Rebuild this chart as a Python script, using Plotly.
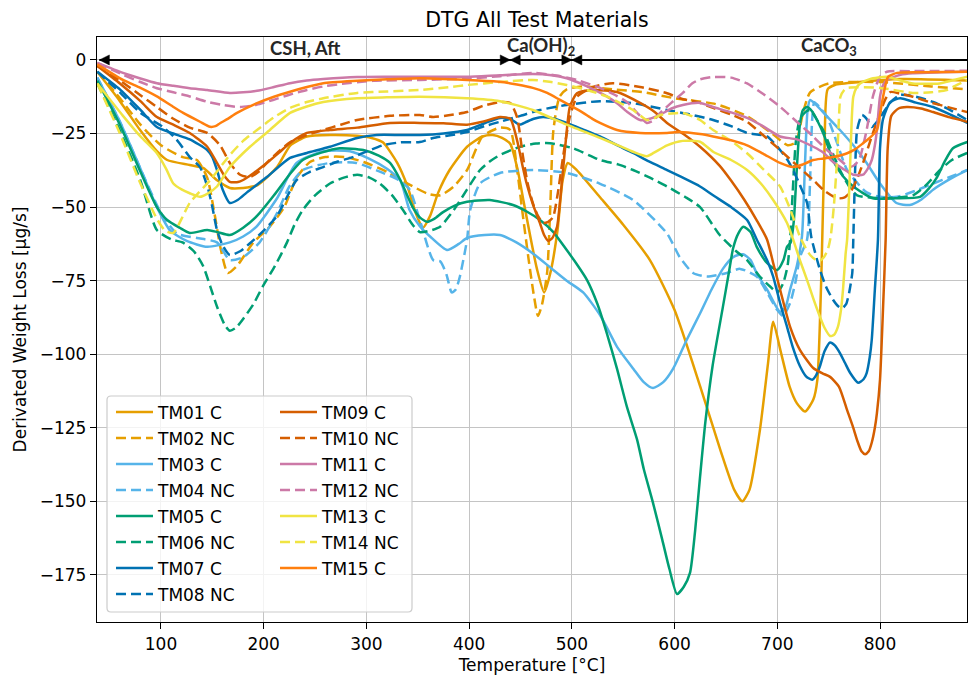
import plotly.graph_objects as go

# ---- DTG curves: (temperature °C, derivative weight loss µg/s) ----
TM01 = [(38, -4), (60, -14), (80, -24), (96, -31), (106, -34), (128, -35.7), (141, -36.7), (155, -41),
        (167, -43.5), (180, -43.5), (194, -42.5), (213, -36.4), (226, -29), (242, -26), (265, -25.5),
        (291, -25.8), (305, -26.5), (316, -28), (330, -35), (340, -43), (348, -52), (355, -57), (362, -53),
        (370, -45), (381, -37.4), (398, -29.5), (413, -26), (423, -25.5), (432, -26.5), (440, -28.5),
        (447, -37), (453, -48), (459, -59), (466, -71), (473, -79), (479, -72.5), (486, -58), (491, -41),
        (496, -35), (505, -37.5), (527, -46.5), (550, -56), (576, -68), (600, -85), (625, -111), (645, -133),
        (658, -146), (666, -150), (673, -146), (683, -126), (691, -103), (696, -89), (703, -98.6),
        (712, -111), (719, -116.6), (727, -119.5), (735, -115.5), (739, -108.7), (743, -72), (746, -30),
        (749, -10), (756, -8.5), (780, -7.5), (820, -6.5), (885, -7)]
TM02 = [(38, -4), (60, -13), (80, -22), (100, -29), (121, -33), (135, -34), (145, -40), (152, -52),
        (158, -64), (165, -72.4), (174, -70), (190, -62), (205, -57), (220, -50), (232, -40), (245, -34.7),
        (260, -33), (280, -33), (300, -35), (320, -38), (340, -42), (360, -45.5), (372, -46), (385, -43),
        (398, -37.4), (413, -26), (430, -23), (440, -23.8), (446.6, -37), (452, -52), (458, -68), (463, -80),
        (467, -87), (471, -83), (476, -72), (479, -50), (482, -24), (488, -12.5), (495, -10), (510, -9),
        (540, -10), (570, -11), (600, -13), (640, -15), (670, -19), (695, -25), (710, -29), (718, -28),
        (725, -18), (732, -11), (750, -8), (800, -7.5), (850, -9), (885, -10)]
TM03 = [(38, -6), (60, -21), (80, -37), (96, -50), (109, -58), (125, -61.5), (145, -63.5), (167, -62),
        (180, -60), (193, -56.6), (213, -47), (232, -35), (258, -31), (284, -31), (303, -33.6), (320, -37),
        (333, -41), (342, -51), (352, -56.5), (362, -60), (378.5, -64.6), (390, -62.5), (398, -60.5),
        (415, -59.5), (430, -59.5), (446, -62), (463, -66), (479, -70.5), (495, -75), (511, -79), (528, -87),
        (544, -97.5), (560, -105), (570, -109.5), (579, -111.5), (589, -109.5), (598.5, -105), (612, -95),
        (625, -86), (636, -78), (647, -71), (657, -67), (666.7, -66), (674, -68), (680, -72.5), (690, -78),
        (702.7, -85.6), (708, -84), (712.5, -78), (719, -70), (724, -60), (727, -35), (729.5, -17),
        (732, -13.6), (737, -15), (748, -19), (761, -23.8), (774, -29), (787, -35), (800, -42), (816, -48.6),
        (829, -49.3), (840, -47.5), (852, -44), (868, -40.5), (885, -37.4)]
TM04 = [(38, -6), (60, -21), (80, -37), (100, -52), (115.6, -59), (135, -60.5), (154.5, -62), (167, -68),
        (180, -67), (196, -62), (213, -52), (225, -43), (238, -37.4), (264.5, -35), (290, -35),
        (316, -38.4), (330, -40.5), (342, -44), (352, -54.4), (365, -68), (372, -68.5), (378, -73),
        (383, -79), (387, -78), (391, -73.6), (398, -61), (401, -51), (410.6, -42), (430, -38.4),
        (462, -37.4), (495, -38.4), (527, -42), (559.6, -47.6), (592.7, -59), (605, -67), (618, -72.4),
        (631.6, -73.6), (650, -72.5), (663.8, -71), (680, -73.6), (690, -79), (700, -85), (705.6, -87),
        (712.5, -82.6), (718, -75), (722, -67), (729, -61), (732, -40), (734, -20), (736, -14.4),
        (741, -16), (748.5, -19.4), (758, -28), (768, -37.4), (787, -45), (800, -46.5), (816.6, -46.5),
        (834, -44.5), (851.7, -42), (870, -39.5), (885, -37.4)]
TM05 = [(38, -7), (60, -22), (80, -38), (96, -50), (106, -54.4), (118, -57), (128, -58.8), (145, -57.8),
        (155, -58.5), (167, -59.5), (180, -57), (193.5, -53), (210, -46), (225, -39), (238, -34),
        (256, -31.5), (274, -30), (297, -30.6), (312, -32.5), (323, -35), (333, -40.8), (345, -50),
        (352, -53.5), (359, -55), (366, -54), (374.6, -51.7), (386, -49.5), (398, -48.2), (420, -47.6),
        (442.7, -49.3), (456, -51.5), (469, -54.4), (482, -58.5), (495, -64.6), (505, -69.5),
        (514.8, -74.8), (525, -83), (534, -92.8), (544, -105), (553.7, -118), (563.5, -129), (570, -139),
        (579, -150.5), (588, -163), (595, -173), (602.4, -181.5), (609, -179), (615, -174.3), (620, -160),
        (624.8, -141.7), (630, -123), (637, -104), (647, -84), (653, -72), (657, -64), (662, -59),
        (667, -56.7), (674, -58.5), (680, -63.5), (690, -69), (700, -71.4), (706, -68), (709.5, -63.5),
        (713, -62), (716, -55), (719, -37), (722, -22), (725, -17), (729, -16), (734, -17.5),
        (738.7, -20.4), (746, -26), (754, -34), (764, -39.5), (774, -43), (793, -47), (815, -47),
        (839, -46.5), (848, -43.5), (855.6, -39.8), (863, -34.5), (871, -30), (885, -27.9)]
TM06 = [(38, -8), (60, -24), (80, -41), (96, -57.8), (110, -61), (121, -62), (132, -65), (141, -70),
        (148, -77), (154.5, -83.8), (162, -90), (167, -92), (173, -91), (180, -88), (190, -83), (199, -77),
        (211, -70), (222.7, -62), (230, -56), (238, -51), (250, -46), (264.5, -42), (278, -40), (291, -39),
        (303, -40), (313, -42), (325, -46), (335.6, -51), (345, -56), (352, -58.5), (362, -58),
        (371.7, -56.7), (385, -51), (398, -44), (410.6, -37.4), (420, -34.5), (430, -32.3), (449.6, -29.5),
        (465, -28.4), (478.8, -28.3), (501, -30), (527.4, -34), (545, -35.5), (559.6, -37.4), (576, -40),
        (592.7, -43), (610, -46.5), (624.8, -50), (644, -59.5), (660, -65), (670.6, -68), (683, -73.6),
        (693, -77), (700, -79), (705.6, -76), (710, -70), (712.5, -61), (715, -45), (718, -28), (722, -20),
        (728, -17.5), (732, -17), (738, -20), (744.6, -23.8), (752, -30), (761, -37.4), (770, -43),
        (777.7, -46), (800, -47), (832, -46), (845, -42.5), (858.5, -37.4), (870, -34), (885, -31.6)]
TM07 = [(38, -4), (60, -10), (80, -17), (96, -22.8), (112, -25), (128, -27), (145, -30.6), (150, -33),
        (154.5, -37.4), (160, -44), (167, -48.6), (175, -47.5), (183.7, -45), (203, -39.8), (225.6, -33.3),
        (242, -31.6), (264.5, -29.5), (291, -26.5), (310, -25.5), (333, -25.5), (352, -25.5), (375, -25),
        (398, -23.8), (415, -21.5), (430, -19.7), (440, -20), (449, -22), (456, -21), (463, -20),
        (472, -19.4), (483, -20), (495, -21.4), (510, -23.5), (527.4, -26), (543, -28.8), (559.6, -31.6),
        (575, -34.5), (592.7, -37.4), (605, -39.5), (624.8, -43), (637.5, -46), (655, -50), (670.6, -54.4),
        (680, -61), (690, -68), (696, -73.6), (703, -83), (709.5, -90.7), (715, -97.5), (722, -104),
        (728, -107.5), (734, -108.7), (738, -107), (741.6, -104), (746, -99), (751.4, -96), (756, -97),
        (761, -99.6), (766, -103), (771, -106.4), (778.7, -109.7), (784, -108.5), (787, -106.4),
        (790, -101), (792, -95), (795, -78), (798, -61), (800, -30), (803, -20), (810, -14.3),
        (819.6, -13), (835, -14.5), (851.7, -16), (868, -18.5), (885, -21.4)]
TM08 = [(38, -4), (60, -11), (80, -18), (102, -22.8), (115, -27), (128, -33), (138, -36.4), (146, -44),
        (150, -50), (154.5, -57.8), (160, -63), (167, -66.3), (177, -65), (186.6, -62.3), (200, -58),
        (213, -53), (222, -47), (232, -40.8), (245, -38), (258, -36.4), (272, -34.5), (287, -33),
        (301, -31), (316, -29), (333, -28), (352, -27.9), (365, -26.5), (380, -25.7), (398, -24.5),
        (415, -22.5), (430, -21), (450, -19), (469, -17), (495, -15.3), (527.4, -14), (559.6, -14.7),
        (592.7, -17), (615, -18.5), (637.5, -20.4), (655, -22.5), (670.6, -24.8), (690, -26),
        (702.7, -30.6), (710, -34), (715.4, -37.4), (722, -42.5), (729, -48.6), (733, -60),
        (741.6, -71.4), (748, -77.5), (754.3, -81.5), (759, -83.6), (763, -84.4), (767, -83), (770, -79),
        (773, -72.4), (774, -61), (776, -35), (777.7, -23.8), (782.5, -18.7), (787, -20), (792, -22.8),
        (797, -21), (803, -18), (810, -14.5), (819.6, -11.9), (835, -12.5), (851.7, -14.3), (868, -17),
        (885, -20.4)]
TM09 = [(38, -2), (60, -8), (80, -14), (96, -19.4), (112, -22), (128, -24.8), (145, -29.5), (154.5, -35),
        (162, -39.5), (167, -41.4), (175, -41.5), (180, -40.8), (190, -38.5), (203, -35), (215, -31.5),
        (225.6, -28.2), (242, -24.8), (264.5, -23.8), (291, -23), (323, -21.4), (352, -21.4), (375, -21.5),
        (398, -22), (415, -20.8), (430, -19.4), (440, -20), (446.6, -27.2), (452, -36), (456, -42),
        (462, -49), (469, -55.5), (473, -59.5), (477, -61.5), (481, -60.5), (485.6, -56.7), (488.5, -48),
        (491.4, -37.4), (494.5, -26), (498, -16), (505, -11.3), (520.6, -10.2), (544, -10.9),
        (566.4, -14.6), (580, -17.5), (592.7, -21.4), (610, -25.5), (624.8, -29.5), (644, -36), (655, -41),
        (668, -47.6), (680, -54.5), (690, -61), (696, -69), (702.7, -78), (712.5, -90.7), (722, -98.5),
        (735, -104.7), (744, -106.5), (751.4, -107.7), (760, -111), (768, -119), (774, -125),
        (778, -129.5), (782, -133), (785.5, -134), (789, -133), (792, -130), (795, -125), (797, -120),
        (800, -108.7), (803, -84), (805.5, -61), (807.5, -30), (811, -19), (818, -16.5), (826, -16),
        (840, -16.5), (851.7, -17.7), (868, -19.5), (885, -21)]
TM10 = [(38, -2), (60, -7), (80, -12), (96, -16), (112, -20), (128, -23), (145, -24.8), (157.5, -29),
        (167, -35), (177, -39), (186.6, -39.8), (195, -38), (203, -35), (215, -31), (225.6, -28),
        (242, -25.5), (258, -23.8), (275, -22), (291, -20.4), (323, -19), (352, -18.7), (365, -19.4),
        (380, -18.8), (398, -17.7), (413.5, -15.6), (430, -14.3), (440, -14.6), (446.6, -19.4),
        (452.5, -33), (457, -42), (462, -48.6), (467, -53), (472, -55.4), (477, -55), (481.7, -53.4),
        (486, -46), (491.4, -33), (495, -25), (498, -19.4), (505, -12.5), (520.6, -9.2), (540, -7.9),
        (566.4, -9.2), (592.7, -11.3), (605, -13), (624.8, -14.6), (637.5, -16.3), (655, -18.5),
        (670.6, -21), (686, -25.5), (702.7, -30.6), (718, -35.5), (735, -40.8), (746, -44.5), (758, -47),
        (765, -46.8), (771, -45), (777, -41), (783.5, -35), (792, -26), (800, -18), (805, -13.5),
        (810, -10.9), (820, -11.5), (832, -12.5), (850, -14.5), (868, -16.2), (885, -17.7)]
TM11 = [(38, -1), (63, -4.4), (80, -6.3), (96, -7.9), (112, -8.8), (128, -9.6), (145, -10.2), (167, -11.2),
        (180, -11), (193.5, -10.5), (210, -9.2), (225.6, -7.9), (242, -7), (258, -6.5), (291, -5.8),
        (320, -5.7), (352, -5.7), (398, -5.7), (430, -5.2), (462, -4.8), (480, -5.2), (495, -6.2),
        (505, -7.5), (514.8, -9), (534, -12.4), (545, -15), (553.7, -17.6), (566.4, -20.4), (576, -20),
        (586, -18.6), (597, -16.5), (608, -15.3), (624.8, -14.6), (637.5, -16), (655, -17.8),
        (670.6, -19.7), (686, -22.5), (702.7, -26), (719, -27), (735, -29.5), (745, -31.5),
        (754.3, -34.7), (764, -37), (774, -39), (783.5, -39), (788, -37), (792, -34), (795, -29),
        (797, -23.8), (800, -12.5), (803, -8.5), (806.7, -6.8), (820, -5), (832, -4.5), (860, -4.2),
        (885, -4)]
TM12 = [(38, -1), (63, -5), (80, -7.5), (96, -9.6), (112, -11), (128, -12.4), (145, -14.2), (160, -15.3),
        (177, -16), (193, -15.2), (209, -13.6), (225, -11.8), (242, -10.2), (258, -9), (274, -8.2),
        (306, -7.1), (352, -6.8), (398, -6.3), (430, -5.5), (462, -4.4), (485, -5.3), (505, -6.8),
        (527.4, -9.5), (540, -11.5), (553.7, -14.3), (565, -18.5), (573, -21.4), (580, -20.5), (586, -18),
        (597, -14.5), (608, -11.2), (617, -8), (624.8, -6.6), (637.5, -5.8), (655, -6), (670.6, -8),
        (686, -11.5), (702.7, -15.9), (719, -21), (735, -26), (748, -30.5), (761, -34), (766, -35.5),
        (771, -36.4), (776, -35.5), (780.6, -33), (784, -28.5), (787, -23.8), (790, -18), (793, -12.5),
        (797, -8), (800, -5.7), (806.7, -4), (830, -3.8), (885, -3.7)]
TM13 = [(38, -8), (63, -19), (80, -26), (96, -31.7), (105, -37), (112, -42), (120, -44), (128, -45.3),
        (138, -46.5), (145, -45.5), (154.5, -43), (167, -36.4), (186.6, -29.5), (206, -23.8),
        (225.6, -18), (242, -15.8), (258, -14.3), (291, -13), (320, -12.7), (352, -12.5), (398, -13),
        (430, -14), (462, -17), (495, -22), (527.4, -26.5), (545, -29), (559.6, -31.2), (573, -32.7),
        (580, -31.5), (592.7, -29), (608, -27.5), (624.8, -27.8), (637.5, -31.2), (655, -34),
        (670.6, -37.4), (684, -42), (696, -47.6), (709.5, -55.4), (715.4, -61), (722, -68), (729, -74.8),
        (735, -81), (741.6, -87.3), (746, -91), (751.4, -93.8), (755, -93.5), (759, -90.7), (762, -85),
        (764, -78), (766.5, -66), (768, -61), (770.5, -40), (772.5, -20), (774, -12.5), (777, -9.5),
        (780.6, -8), (790, -6.5), (806.7, -5.7), (820, -7), (832, -8), (858, -8), (870, -7), (885, -5.7)]
TM14 = [(38, -8), (60, -25), (80, -42), (96, -54), (104, -58), (112, -58.8), (120, -54), (128, -48.6),
        (148, -40.8), (167, -32.3), (180, -27.5), (193.5, -23.8), (210, -19.5), (225.6, -16.3),
        (242, -14.3), (258, -13), (291, -11.2), (320, -10.7), (352, -10.2), (380, -9.3), (398, -8.5),
        (430, -7.5), (462, -6.8), (480, -7.5), (495, -8.5), (514.8, -10.2), (534, -12.4), (548, -14.8),
        (559.6, -17), (567, -19), (573, -20.4), (580, -19.8), (586, -18.7), (597, -18.2), (608, -18),
        (616, -19), (624.8, -20.4), (637.5, -23.8), (655, -27.5), (670.6, -31.7), (686, -37),
        (702.7, -43), (710, -48.5), (715.4, -53.4), (722, -60), (727, -63.5), (732, -66.3), (737, -67.8),
        (741.6, -68.2), (745.5, -67), (749.5, -64), (752, -60), (755, -50), (758, -35), (760, -20),
        (761.5, -12.5), (765, -10.3), (768, -9.5), (800, -9.5), (832, -11.2), (850, -11), (865, -10.2),
        (875, -8.5), (885, -6.8)]
TM15 = [(38, -1.5), (63, -6.8), (80, -9.5), (96, -12.4), (110, -15.5), (121.6, -18), (138, -21),
        (147.7, -22.7), (153, -22.5), (157.5, -21.5), (165, -20), (174, -18), (193.5, -14.7), (210, -12.5),
        (225.6, -10.8), (242, -9.2), (258, -7.9), (291, -7.1), (320, -6.6), (352, -6.2), (398, -6.8),
        (430, -7.4), (462, -9.5), (476, -11.2), (488.5, -13.6), (500, -15.8), (511, -18), (520, -20),
        (527.4, -21.4), (544, -23.8), (566.4, -24.8), (592.7, -24.8), (605, -24.5), (624.8, -25.2),
        (637.5, -26), (655, -27.3), (670.6, -29), (686, -31.8), (702.7, -35), (715.4, -36.4), (725, -35.5),
        (735, -34), (745, -33.5), (754.3, -33), (768, -31.7), (776, -30.3), (783.5, -28.3), (790, -26.5),
        (797, -23.8), (800, -18.5), (803, -12.5), (806, -7.5), (808, -5.7), (816.6, -4.4), (840, -4.2),
        (885, -4)]

NAMES = ["TM01 C", "TM02 NC", "TM03 C", "TM04 NC", "TM05 C", "TM06 NC", "TM07 C", "TM08 NC",
         "TM09 C", "TM10 NC", "TM11 C", "TM12 NC", "TM13 C", "TM14 NC", "TM15 C"]
CURVES = [TM01, TM02, TM03, TM04, TM05, TM06, TM07, TM08, TM09, TM10, TM11, TM12, TM13, TM14, TM15]
COLORS = ["#E69F00", "#E69F00", "#56B4E9", "#56B4E9", "#009E73", "#009E73", "#0072B2", "#0072B2",
          "#D55E00", "#D55E00", "#CC79A7", "#CC79A7", "#F0E442", "#F0E442", "#FF7F0E"]

# decomposition regions marked along the zero line
REGION_BOUNDS = [40, 440, 500, 1000]
REGION_LABELS = ["CSH, Aft", "Ca(OH)<sub>2</sub>", "CaCO<sub>3</sub>"]

X_TICKS = [100, 200, 300, 400, 500, 600, 700, 800]
Y_TICKS = [0, -25, -50, -75, -100, -125, -150, -175]

W, H = 968, 677
ML, MR, MT, MB = 97, 1, 37, 55
X_RANGE = [37.7, 884.7]
Y_RANGE = [-191.0, 7.8]
FONT = "DejaVu Sans"
FS = 17

fig = go.Figure()
for i, (name, pts, color) in enumerate(zip(NAMES, CURVES, COLORS)):
    xs = [p[0] for p in pts]
    ys = [p[1] for p in pts]
    fig.add_trace(go.Scatter(
        x=xs, y=ys, mode="lines", name=name,
        line=dict(color=color, width=2.5, shape="spline", smoothing=0.6,
                  dash="solid" if name.endswith(" C") else "10px,5px"),
        legend="legend" if i < 8 else "legend2",
        legendgroup=name,
    ))

# region arrows on the zero line
plot_w = W - ML - MR
plot_h = H - MT - MB
ux = (X_RANGE[1] - X_RANGE[0]) / plot_w   # data units per pixel (x)
uy = (Y_RANGE[1] - Y_RANGE[0]) / plot_h   # data units per pixel (y)
head_len, head_half = 10 * ux, 5 * uy
shapes = [dict(type="line", xref="x", yref="y", x0=REGION_BOUNDS[0], x1=X_RANGE[1], y0=0, y1=0,
               line=dict(color="black", width=2), layer="above")]
for a, b in zip(REGION_BOUNDS[:-1], REGION_BOUNDS[1:]):
    for tip, base in ((a, a + head_len), (b, b - head_len)):
        if X_RANGE[0] <= tip <= X_RANGE[1]:
            shapes.append(dict(type="path", xref="x", yref="y",
                               path=f"M {tip},0 L {base},{head_half} L {base},{-head_half} Z",
                               fillcolor="black", line=dict(color="black", width=0.5), layer="above"))
annotations = []
for (a, b), label in zip(zip(REGION_BOUNDS[:-1], REGION_BOUNDS[1:]), REGION_LABELS):
    annotations.append(dict(x=(a + b) / 2, y=0, xref="x", yref="y", text=f"<b>{label}</b>",
                            showarrow=False, yanchor="bottom", yshift=-1,
                            font=dict(family="Lato", size=18.5, color="#262626")))

# legend frame (white, semi-transparent, rounded)
lx0, lx1, ly0, ly1, r = 107, 412, 396, 612, 4
def px2paper_x(p):
    return (p - ML) / plot_w
def px2paper_y(p):
    return 1 - (p - MT) / plot_h
fx0, fx1 = px2paper_x(lx0), px2paper_x(lx1)
fy0, fy1 = px2paper_y(ly1), px2paper_y(ly0)
rx, ry = r / plot_w, r / plot_h
frame = (f"M {fx0+rx},{fy0} L {fx1-rx},{fy0} Q {fx1},{fy0} {fx1},{fy0+ry} L {fx1},{fy1-ry} "
         f"Q {fx1},{fy1} {fx1-rx},{fy1} L {fx0+rx},{fy1} Q {fx0},{fy1} {fx0},{fy1-ry} "
         f"L {fx0},{fy0+ry} Q {fx0},{fy0} {fx0+rx},{fy0} Z")
shapes.append(dict(type="path", xref="paper", yref="paper", path=frame,
                   fillcolor="rgba(255,255,255,0.8)", line=dict(color="rgba(204,204,204,1)", width=1.2),
                   layer="above"))

legend_common = dict(bgcolor="rgba(0,0,0,0)", borderwidth=0, font=dict(family=FONT, size=FS, color="black"),
                     xanchor="left", yanchor="top", tracegroupgap=0.9, itemwidth=37)

fig.update_layout(
    width=W, height=H,
    margin=dict(l=ML, r=MR, t=MT, b=MB, autoexpand=False),
    paper_bgcolor="white", plot_bgcolor="white",
    font=dict(family=FONT, size=FS, color="black"),
    title=dict(text="DTG All Test Materials", x=(ML + plot_w / 2 + 5) / W, xanchor="center",
               y=1 - 20 / H, yanchor="middle", yref="container", font=dict(size=20.5, family=FONT)),
    showlegend=True,
    legend=dict(x=px2paper_x(111), y=px2paper_y(394.5), **legend_common),
    legend2=dict(x=px2paper_x(275), y=px2paper_y(394.5), **legend_common),
    shapes=shapes,
    annotations=annotations,
    xaxis=dict(range=X_RANGE, tickvals=X_TICKS, showgrid=True, gridcolor="#c4c4c4", gridwidth=1.3,
               zeroline=False, showline=True, mirror=True, linecolor="black", linewidth=1.3,
               ticks="outside", ticklen=6, tickwidth=1.3, tickcolor="black",
               tickfont=dict(size=FS), title=dict(text="Temperature [°C]", standoff=6, font=dict(size=FS))),
    yaxis=dict(range=Y_RANGE, tickvals=Y_TICKS, showgrid=True, gridcolor="#c4c4c4", gridwidth=1.3,
               zeroline=False, showline=True, mirror=True, linecolor="black", linewidth=1.3,
               ticks="outside", ticklen=6, tickwidth=1.3, tickcolor="black",
               tickfont=dict(size=FS), title=dict(text="Derivated Weight Loss [µg/s]", standoff=8,
                                                  font=dict(size=FS))),
)

fig.write_html("out.html")
